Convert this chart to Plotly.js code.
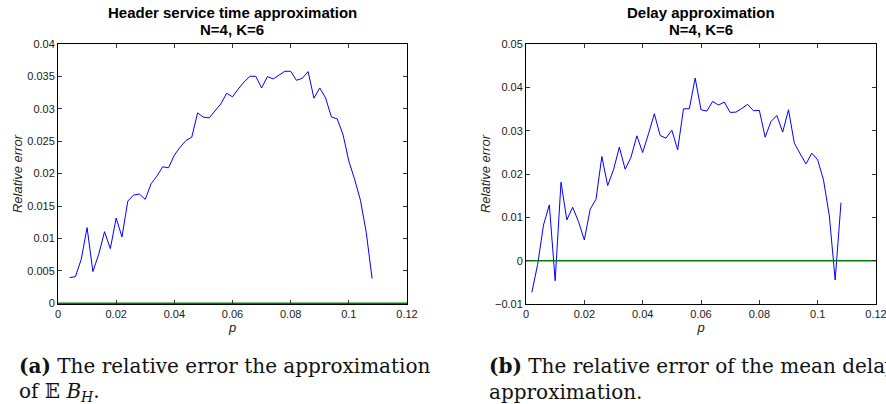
<!DOCTYPE html>
<html>
<head>
<meta charset="utf-8">
<script src="https://cdn.plot.ly/plotly-3.0.1.min.js"></script>
<style>
  html, body { margin: 0; padding: 0; background: #ffffff; }
  #chart { width: 886px; height: 404px; }
</style>
</head>
<body>
<div id="chart"></div>
<script>
// Arrival probability p for the header service-time study (0.004 .. 0.108, step 0.002)
const pHeader = [0.004,0.006,0.008,0.010,0.012,0.014,0.016,0.018,0.020,0.022,0.024,0.026,0.028,0.030,
  0.032,0.034,0.036,0.038,0.040,0.042,0.044,0.046,0.048,0.050,0.052,0.054,0.056,0.058,0.060,0.062,
  0.064,0.066,0.068,0.070,0.072,0.074,0.076,0.078,0.080,0.082,0.084,0.086,0.088,0.090,0.092,0.094,
  0.096,0.098,0.100,0.102,0.104,0.106,0.108];
// Relative error of the header service time approximation
const errHeader = [0.00395,0.0041,0.0068,0.01166,0.00488,0.00755,0.01104,0.00842,0.01315,0.01022,
  0.01576,0.01669,0.01684,0.01602,0.01843,0.01961,0.02105,0.0209,0.02285,0.02408,0.02511,0.02562,
  0.02937,0.0287,0.0286,0.02973,0.03076,0.0324,0.03184,0.03307,0.03415,0.03502,0.03502,0.03322,
  0.03497,0.03461,0.03522,0.03579,0.03579,0.0344,0.03471,0.03574,0.03163,0.03322,0.03168,0.02875,
  0.02845,0.02603,0.02193,0.0191,0.01587,0.01089,0.0038];

// Arrival probability p for the delay study (0.002 .. 0.108, step 0.002)
const pDelay = [0.002,0.004,0.006,0.008,0.010,0.012,0.014,0.016,0.018,0.020,0.022,0.024,0.026,0.028,
  0.030,0.032,0.034,0.036,0.038,0.040,0.042,0.044,0.046,0.048,0.050,0.052,0.054,0.056,0.058,0.060,
  0.062,0.064,0.066,0.068,0.070,0.072,0.074,0.076,0.078,0.080,0.082,0.084,0.086,0.088,0.090,0.092,
  0.094,0.096,0.098,0.100,0.102,0.104,0.106,0.108];
// Relative error of the mean delay approximation
const errDelay = [-0.00732,-0.00085,0.00824,0.01287,-0.00462,0.0181,0.0094,0.01233,0.009,0.00478,
  0.01186,0.01418,0.02404,0.01733,0.02096,0.0262,0.02111,0.02388,0.02881,0.02496,0.02928,0.0339,
  0.02889,0.02827,0.03012,0.02558,0.03505,0.03505,0.04214,0.03482,0.03451,0.03675,0.0359,0.0366,
  0.03421,0.03428,0.03513,0.03606,0.03459,0.03467,0.0285,0.03213,0.03351,0.02966,0.03482,0.02712,
  0.02465,0.02234,0.02481,0.02327,0.01864,0.01032,-0.00447,0.0134];

// Zero reference line across the full p range
const refX = [0, 0.12];
const refY = [0, 0];

const titles = [
  ['Header service time approximation', 'N=4, K=6'],
  ['Delay approximation', 'N=4, K=6']
];
const yAxisLabel = 'Relative error';
const xAxisLabel = 'p';
const captions = [
  ['<b>(a)</b> The relative error the approximation', 'of 𝔼 <i>B</i><sub><i>H</i></sub>.'],
  ['<b>(b)</b> The relative error of the mean delay', 'approximation.']
];

const W = 886, H = 404;
const px = v => v / W;
const py = v => (H - v) / H;

const sans = 'Liberation Sans, Arial, sans-serif';
const tickFont = { family: sans, size: 11, color: '#1a1a1a' };
const labelFont = { family: sans, size: 13, color: '#1a1a1a' };
const titleFont = { family: sans, size: 15, color: '#000' };
const capFont = { family: 'DejaVu Serif, serif', size: 20, color: '#111' };

function axisBase(extra) {
  return Object.assign({
    showgrid: false,
    zeroline: false,
    showline: true,
    linecolor: '#000',
    linewidth: 1,
    mirror: 'ticks',
    ticks: 'inside',
    ticklen: 4,
    tickwidth: 1,
    tickcolor: '#333',
    tickfont: tickFont,
    ticklabeloverflow: 'allow',
    fixedrange: true
  }, extra);
}

const blue = { color: '#0000ff', width: 1 };
const green = { color: 'rgb(0,128,0)', width: 1.5 };

const traces = [
  { x: pHeader, y: errHeader, xaxis: 'x', yaxis: 'y', mode: 'lines', line: blue },
  { x: refX, y: refY, xaxis: 'x', yaxis: 'y', mode: 'lines', line: green },
  { x: pDelay, y: errDelay, xaxis: 'x2', yaxis: 'y2', mode: 'lines', line: blue },
  { x: refX, y: refY, xaxis: 'x2', yaxis: 'y2', mode: 'lines', line: green }
];

const plotTop = 44, plotBottom = 304;
const left = [58, 407], right = [526, 876];

const annotations = [];
[left, right].forEach((dom, i) => {
  const cx = px((dom[0] + dom[1]) / 2);
  annotations.push({ xref: 'paper', yref: 'paper', x: cx, y: py(12), xanchor: 'center', yanchor: 'middle',
    text: '<b>' + titles[i][0] + '</b>', showarrow: false, font: titleFont });
  annotations.push({ xref: 'paper', yref: 'paper', x: cx, y: py(30), xanchor: 'center', yanchor: 'middle',
    text: '<b>' + titles[i][1] + '</b>', showarrow: false, font: titleFont });
});
[17, 487].forEach((x0, i) => {
  annotations.push({ xref: 'paper', yref: 'paper', x: px(x0), y: py(366), xanchor: 'left', yanchor: 'middle',
    text: captions[i][0], showarrow: false, font: capFont });
  annotations.push({ xref: 'paper', yref: 'paper', x: px(x0), y: py(392), xanchor: 'left', yanchor: 'middle',
    text: captions[i][1], showarrow: false, font: capFont });
});

const layout = {
  width: W,
  height: H,
  margin: { l: 0, r: 0, t: 0, b: 0 },
  paper_bgcolor: '#ffffff',
  plot_bgcolor: '#ffffff',
  showlegend: false,
  xaxis: axisBase({ domain: [px(left[0]), px(left[1])], anchor: 'y', range: [0, 0.12], dtick: 0.02,
    title: { text: '<i>' + xAxisLabel + '</i>', font: labelFont, standoff: 2 } }),
  // lower bound a hair below zero so the zero line sits on the bottom frame
  yaxis: axisBase({ domain: [py(plotBottom), py(plotTop)], anchor: 'x', range: [-0.00012, 0.04],
    tick0: 0, dtick: 0.005,
    title: { text: '<i>' + yAxisLabel + '</i>', font: labelFont } }),
  xaxis2: axisBase({ domain: [px(right[0]), px(right[1])], anchor: 'y2', range: [0, 0.12], dtick: 0.02,
    title: { text: '<i>' + xAxisLabel + '</i>', font: labelFont, standoff: 2 } }),
  yaxis2: axisBase({ domain: [py(plotBottom), py(plotTop)], anchor: 'x2', range: [-0.01, 0.05], dtick: 0.01,
    title: { text: '<i>' + yAxisLabel + '</i>', font: labelFont } }),
  annotations: annotations
};

Plotly.newPlot('chart', traces, layout, { staticPlot: true, displayModeBar: false });
</script>
</body>
</html>
